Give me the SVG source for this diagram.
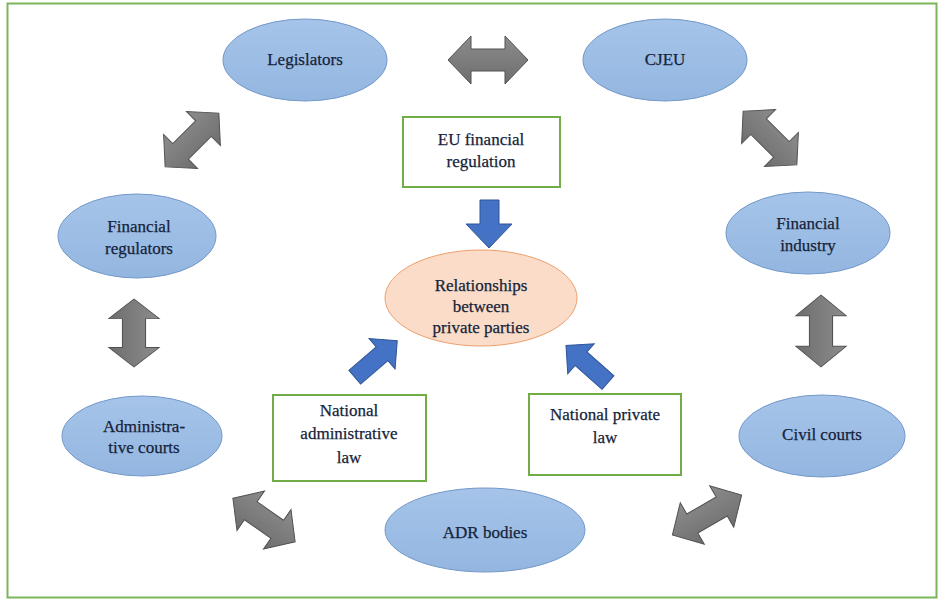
<svg xmlns="http://www.w3.org/2000/svg" width="945" height="602" viewBox="0 0 945 602">
<defs>
<linearGradient id="blueG" x1="0" y1="0" x2="0" y2="1">
<stop offset="0" stop-color="#a6c4e9"/><stop offset="1" stop-color="#93b6e0"/>
</linearGradient>
<linearGradient id="grayG" x1="0" y1="0" x2="0" y2="1">
<stop offset="0" stop-color="#8c8c8c"/><stop offset="1" stop-color="#6e6e6e"/>
</linearGradient>
<path id="dbl" d="M-40,0 L-17,-24 L-17,-11 L17,-11 L17,-24 L40,0 L17,24 L17,11 L-17,11 L-17,24 Z"/>
<path id="one" d="M-28,-9 L8,-9 L8,-20 L28,0 L8,20 L8,9 L-28,9 Z"/>
</defs>
<style>
.ell{fill:url(#blueG);stroke:#7398c9;stroke-width:1}
.box{fill:#ffffff;stroke:#70ad47;stroke-width:2}
.t{font-family:"Liberation Serif","Times New Roman",serif;font-size:17px;fill:#15233a;stroke:#15233a;stroke-width:0.25;text-anchor:middle}
.g{fill:url(#grayG);stroke:#505050;stroke-width:1}
.b{fill:#4472c4;stroke:#2f5597;stroke-width:1}
</style>
<rect x="7.5" y="3.5" width="929" height="594" fill="#ffffff" stroke="#7ab55c" stroke-width="2"/>

<g id="connectors">
<use href="#dbl" class="g" transform="translate(488,60)"/>
<use href="#dbl" class="g" transform="translate(192,140) rotate(-45) scale(0.95,1)"/>
<use href="#dbl" class="g" transform="translate(770,138) rotate(45) scale(0.95,1)"/>
<use href="#dbl" class="g" transform="translate(134,333) rotate(90) scale(0.85,1.05)"/>
<use href="#dbl" class="g" transform="translate(821,331) rotate(90) scale(0.9,1.05)"/>
<use href="#dbl" class="g" transform="translate(264,520) rotate(35) scale(0.95,1)"/>
<use href="#dbl" class="g" transform="translate(707,515) rotate(-30) scale(1.0,1)"/>
<path class="b" d="M480,200 L499,200 L499,224 L512,224 L489,248 L466,224 L480,224 Z"/>
<use href="#one" class="b" transform="translate(376,359) rotate(-40.6)"/>
<use href="#one" class="b" transform="translate(587,364) rotate(-138.6)"/>
</g>

<g id="legislators">
<ellipse class="ell" cx="305" cy="60" rx="82" ry="41"/>
<text class="t" x="305" y="65">Legislators</text>
</g>
<g id="cjeu">
<ellipse class="ell" cx="665" cy="60" rx="82" ry="41"/>
<text class="t" x="665" y="65">CJEU</text>
</g>
<g id="eu-financial-regulation">
<rect class="box" x="403" y="117" width="157" height="70"/>
<text class="t" x="481" y="145">EU financial</text>
<text class="t" x="481" y="167">regulation</text>
</g>
<g id="financial-regulators">
<ellipse class="ell" cx="137" cy="236" rx="79" ry="42"/>
<text class="t" x="139" y="232">Financial</text>
<text class="t" x="139" y="254">regulators</text>
</g>
<g id="financial-industry">
<ellipse class="ell" cx="808" cy="233" rx="82" ry="41"/>
<text class="t" x="808" y="229">Financial</text>
<text class="t" x="808" y="251">industry</text>
</g>
<g id="relationships">
<ellipse cx="481" cy="298" rx="96" ry="48" fill="#fadcc8" stroke="#ee9f6c" stroke-width="1"/>
<text class="t" x="481" y="291">Relationships</text>
<text class="t" x="481" y="312">between</text>
<text class="t" x="481" y="333">private parties</text>
</g>
<g id="administrative-courts">
<ellipse class="ell" cx="142" cy="436" rx="80" ry="40"/>
<text class="t" x="144" y="432">Administra-</text>
<text class="t" x="144" y="453">tive courts</text>
</g>
<g id="national-administrative-law">
<rect class="box" x="273" y="395" width="153" height="86"/>
<text class="t" x="349" y="416">National</text>
<text class="t" x="349" y="439">administrative</text>
<text class="t" x="349" y="463">law</text>
</g>
<g id="national-private-law">
<rect class="box" x="529" y="394" width="152" height="81"/>
<text class="t" x="605" y="420">National private</text>
<text class="t" x="605" y="443">law</text>
</g>
<g id="civil-courts">
<ellipse class="ell" cx="822" cy="436" rx="83" ry="41"/>
<text class="t" x="822" y="440">Civil courts</text>
</g>
<g id="adr-bodies">
<ellipse class="ell" cx="485" cy="530" rx="100" ry="42"/>
<text class="t" x="485" y="538">ADR bodies</text>
</g>
</svg>
